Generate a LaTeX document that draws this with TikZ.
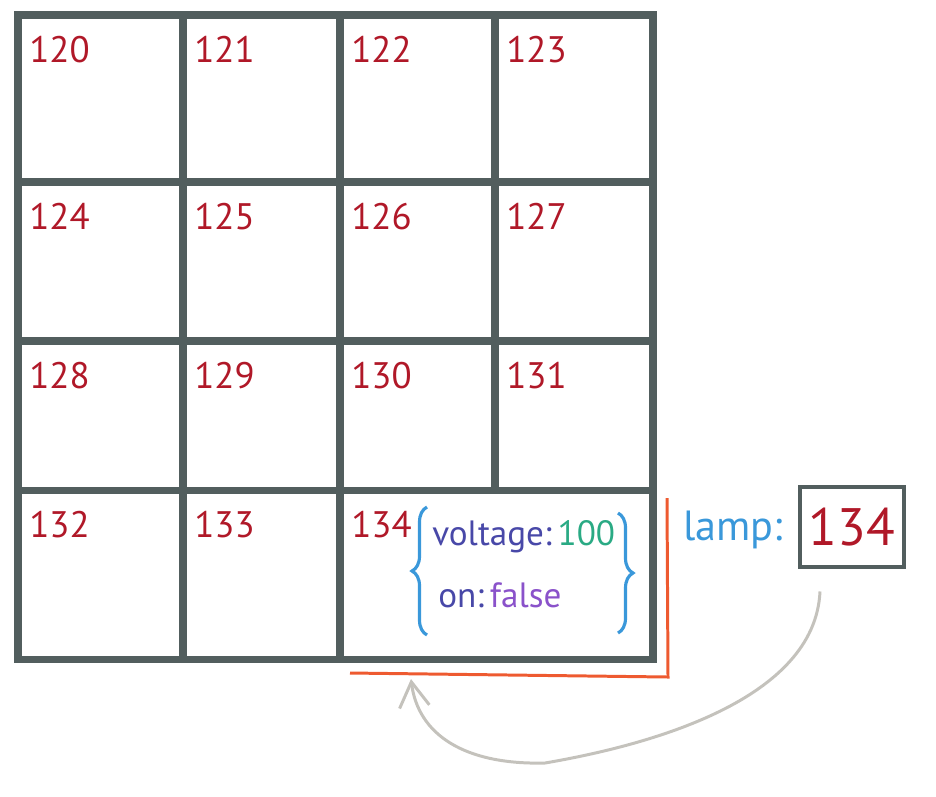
\documentclass[tikz,border=0pt]{standalone}
\usepackage{fontspec}
\setmainfont{PT Sans}
\usetikzlibrary{arrows.meta,decorations.pathreplacing}
\definecolor{grid}{HTML}{525E5E}
\definecolor{cellnum}{HTML}{B01828}
\definecolor{ref}{HTML}{3A98DA}
\definecolor{key}{HTML}{4848A8}
\definecolor{numval}{HTML}{2AAA84}
\definecolor{boolval}{HTML}{8A52CA}
\definecolor{bracket}{HTML}{EE5A30}
\definecolor{pointer}{HTML}{C4C2BC}

\begin{document}
\begin{tikzpicture}[x=0.02cm, y=-0.02cm]
  \useasboundingbox (0,0) rectangle (936,796);

  % Grid (the last row has a double-width cell)
  \foreach \gx in {18,183,340,653}
    \draw[line width=4pt, draw=grid] (\gx,13) -- (\gx,660);
  \draw[line width=4pt, draw=grid] (495,13) -- (495,490);
  \foreach \gy in {15,182,341,490,659}
    \draw[line width=4pt, draw=grid, line cap=rect] (18,\gy) -- (653,\gy);

  % Cell addresses
  \foreach \col/\cx in {0/18,1/183,2/340,3/495}
    \foreach \row/\ry in {0/15,1/182,2/341,3/490}{
      \pgfmathtruncatemacro\num{120+4*\row+\col}
      \ifnum\num<135
        \node[anchor=base west, inner sep=0, cellnum, font=\fontsize{21}{24}\selectfont]
          (cell\num) at (\cx+11, \ry+47) {\num};
      \fi
    }

  % Object stored in cell 134
  \draw[line width=1.8pt, draw=ref, decorate, decoration={brace, amplitude=0.3cm}]
    (427,635) -- (427,507);
  \draw[line width=1.8pt, draw=ref, decorate, decoration={brace, amplitude=0.3cm}]
    (618,513) -- (618,633);
  \node[anchor=base west, inner sep=0, font=\fontsize{20}{22}\selectfont]
    (voltage) at (432,545) {\textcolor{key}{voltage:}\,\textcolor{numval}{100}};
  \node[anchor=base west, inner sep=0, font=\fontsize{20}{22}\selectfont]
    (on) at (438,607) {\textcolor{key}{on:}\,\textcolor{boolval}{false}};

  % Bracket under the object
  \draw[line width=1.7pt, draw=bracket] (350,673) -- (668,677) -- (667,498);

  % Variable
  \node[anchor=base west, inner sep=0, ref, font=\fontsize{24}{26}\selectfont]
    (lamp) at (683,540) {lamp:};
  \node[text=cellnum, draw=grid, line width=2.8pt, inner sep=0,
    minimum width=2.08cm, minimum height=1.6cm, font=\fontsize{30}{32}\selectfont]
    (lampbox) at (852,527) {134};

  % Pointer back to the object
  \coordinate (target) at (411,679);
  \draw[line width=1.7pt, draw=pointer, -{Straight Barb[length=0.5cm, width=0.6cm]}]
    ([shift={(-32,22)}]lampbox.south) .. controls (815,700) and (650,745) .. (545,763)
    .. controls (465,765) and (418,735) .. (target);
\end{tikzpicture}
\end{document}
